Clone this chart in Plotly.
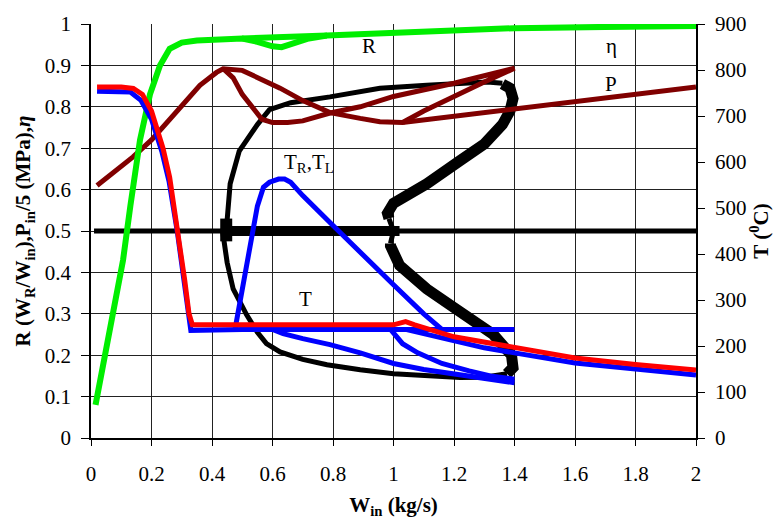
import plotly.graph_objects as go

# ---------------- data ----------------
# eta (efficiency) - main path with lower hysteresis branch
eta_x = [0.015, 0.06, 0.106, 0.13, 0.162, 0.195, 0.228, 0.26, 0.3, 0.35, 0.42, 0.5, 0.55, 0.6, 0.63,
         0.67, 0.72, 0.78, 0.9, 1.0, 1.2, 1.4, 1.7, 2.0]
eta_y = [0.08, 0.25, 0.43, 0.56, 0.72, 0.83, 0.9, 0.94, 0.955, 0.96, 0.963, 0.965, 0.957, 0.946, 0.944,
         0.952, 0.965, 0.972, 0.976, 0.979, 0.985, 0.99, 0.993, 0.995]
eta_up_x = [0.5, 0.56, 0.65, 0.72, 0.78]
eta_up_y = [0.965, 0.967, 0.969, 0.971, 0.972]

# P_in/5 (MPa) - forward path
p_x = [0.02, 0.08, 0.139, 0.2, 0.25, 0.294, 0.36, 0.415, 0.437, 0.5, 0.625, 0.7, 0.79, 0.89, 0.955, 1.03,
       1.2, 1.42, 1.6, 1.8, 2.0]
p_y = [0.61, 0.645, 0.679, 0.72, 0.76, 0.797, 0.852, 0.883, 0.892, 0.888, 0.845, 0.815, 0.786, 0.772, 0.764,
       0.762, 0.777, 0.795, 0.812, 0.83, 0.848]
# P loop branch
p_loop_x = [0.437, 0.47, 0.5, 0.53, 0.565, 0.6, 0.65, 0.7, 0.79, 0.89, 1.0, 1.2, 1.4, 1.3, 1.2, 1.1, 1.03]
p_loop_y = [0.892, 0.87, 0.83, 0.8, 0.77, 0.762, 0.762, 0.766, 0.785, 0.8, 0.825, 0.857, 0.893, 0.86, 0.826,
            0.79, 0.762]

# R (W_R/W_in)
r_const_x = [0.01, 2.0]
r_const_y = [0.5, 0.5]
r_band_x = [0.44, 1.02]
r_band_y = [0.5, 0.5]
r_blob_x = [0.447, 0.447]
r_blob_y = [0.475, 0.53]
r_thin_x = [1.375, 1.3, 1.22, 1.1, 1.0, 0.89, 0.78, 0.7, 0.625, 0.58, 0.55, 0.515, 0.47, 0.45, 0.437, 0.435,
            0.45, 0.46, 0.49, 0.55, 0.59, 0.66, 0.79, 0.955, 1.11, 1.31, 1.36]
r_thin_y = [0.155, 0.147, 0.146, 0.15, 0.155, 0.165, 0.177, 0.19, 0.208, 0.228, 0.255, 0.297, 0.36, 0.424,
            0.479, 0.5, 0.526, 0.614, 0.693, 0.757, 0.793, 0.81, 0.824, 0.845, 0.852, 0.86, 0.857]
r_thick_up_x = [1.36, 1.385, 1.395, 1.385, 1.36, 1.3, 1.22, 1.11, 1.0, 0.98, 0.985]
r_thick_up_y = [0.855, 0.845, 0.82, 0.79, 0.757, 0.71, 0.67, 0.614, 0.567, 0.543, 0.53]
r_neck_x = [0.985, 1.0, 0.99]
r_neck_y = [0.53, 0.5, 0.47]
r_thick_lo_x = [0.99, 0.99, 1.02, 1.11, 1.22, 1.33, 1.39, 1.395, 1.375]
r_thick_lo_y = [0.47, 0.464, 0.417, 0.36, 0.305, 0.25, 0.2, 0.17, 0.155]

# Temperatures (deg C, right axis)
t_red_x = [0.02, 0.1, 0.14, 0.17, 0.2, 0.238, 0.26, 0.288, 0.31, 0.324, 0.335, 0.5, 0.7, 0.9, 1.0, 1.04,
           1.07, 1.2, 1.4, 1.6, 1.8, 2.0]
t_red_y = [763, 763, 760, 747, 711, 630, 567, 450, 342, 270, 246, 246, 246, 246, 246, 253, 246, 220, 196,
           174, 160, 148]
t_blue_x = [0.02, 0.1, 0.13, 0.165, 0.2, 0.235, 0.258, 0.285, 0.31, 0.33, 0.5, 0.8, 1.1, 1.4]
t_blue_y = [754, 754, 752, 734, 693, 621, 558, 450, 333, 234, 236, 236, 236, 236]
t_cont_x = [1.04, 1.1, 1.2, 1.3, 1.4, 1.6, 1.8, 2.0]
t_cont_y = [236, 227, 210, 196, 185, 163, 150, 137]
tr_x = [0.476, 0.5, 0.526, 0.55, 0.57, 0.59, 0.62, 0.64, 0.66, 0.7, 0.8, 0.9, 1.0, 1.1, 1.16]
tr_y = [236, 324, 423, 504, 545, 556, 563, 563, 556, 527, 462, 396, 333, 270, 236]
tl_x = [0.6, 0.635, 0.7, 0.79, 0.89, 1.0, 1.1, 1.26, 1.4]
tl_y = [236, 227, 216, 203, 185, 162, 149, 133, 120]
t5_x = [0.99, 1.01, 1.03, 1.08, 1.16, 1.25, 1.32, 1.4]
t5_y = [236, 220, 205, 185, 162, 146, 135, 128]

x_ticks = [0, 0.2, 0.4, 0.6, 0.8, 1, 1.2, 1.4, 1.6, 1.8, 2]
y_ticks = [0, 0.1, 0.2, 0.3, 0.4, 0.5, 0.6, 0.7, 0.8, 0.9, 1]
t_ticks = [0, 100, 200, 300, 400, 500, 600, 700, 800, 900]

FONT = "Liberation Serif, Times New Roman, serif"
BLACK = "#000000"
DARKRED = "#800000"
GREEN = "#00ee00"
BLUE = "#0000ff"
RED = "#ff0000"
GRID = "#222222"

fig = go.Figure()


def line(x, y, color, width, axis="y"):
    fig.add_trace(go.Scatter(x=x, y=y, mode="lines", yaxis=axis,
                             line=dict(color=color, width=width),
                             showlegend=False, hoverinfo="skip"))


# black R
line(r_const_x, r_const_y, BLACK, 5)
line(r_band_x, r_band_y, BLACK, 10)
line(r_blob_x, r_blob_y, BLACK, 12)
line(r_thin_x, r_thin_y, BLACK, 5)
line(r_thick_up_x, r_thick_up_y, BLACK, 11)
line(r_neck_x, r_neck_y, BLACK, 5)
line(r_thick_lo_x, r_thick_lo_y, BLACK, 11)
# dark red P
line(p_x, p_y, DARKRED, 5)
line(p_loop_x, p_loop_y, DARKRED, 5)
# green eta
line(eta_x, eta_y, GREEN, 6)
line(eta_up_x, eta_up_y, GREEN, 6)
# blue T
line(t_blue_x, t_blue_y, BLUE, 5, "y2")
line(t_cont_x, t_cont_y, BLUE, 5, "y2")
line(tr_x, tr_y, BLUE, 5, "y2")
line(tl_x, tl_y, BLUE, 5, "y2")
line(t5_x, t5_y, BLUE, 5, "y2")
# red T
line(t_red_x, t_red_y, RED, 5, "y2")

ann_font = dict(family=FONT, size=21, color="black")
annotations = [
    dict(x=0.92, y=0.948, text="R"),
    dict(x=1.72, y=0.948, text="η"),
    dict(x=1.72, y=0.855, text="P"),
    dict(x=0.72, y=0.665, text="T<sub>R</sub>,T<sub>L</sub>"),
    dict(x=0.71, y=0.335, text="T"),
]
for a in annotations:
    a.update(xref="x", yref="y", showarrow=False, font=ann_font)

tick_font = dict(family=FONT, size=21, color="black")
title_font = dict(family=FONT, size=21, color="black")

fig.update_layout(
    width=779, height=525,
    margin=dict(l=91, r=83, t=18, b=87),
    paper_bgcolor="white", plot_bgcolor="white",
    annotations=annotations,
    xaxis=dict(range=[0, 2], tickvals=x_ticks, ticktext=[f"{v:g}" for v in x_ticks],
               showgrid=True, gridcolor=GRID, gridwidth=1,
               showline=True, linecolor="black", linewidth=1.5,
               ticks="outside", ticklen=6, tickcolor="black", ticklabelstandoff=10,
               tickfont=tick_font, zeroline=False, layer="below traces",
               title=dict(text="<b>W<sub>in</sub> (kg/s)</b>", font=title_font, standoff=12)),
    yaxis=dict(range=[0, 1], tickvals=y_ticks, ticktext=[f"{v:g}" for v in y_ticks],
               showgrid=True, gridcolor=GRID, gridwidth=1,
               showline=True, linecolor="black", linewidth=1.5,
               ticks="outside", ticklen=8, tickcolor="black", ticklabelstandoff=6,
               tickfont=tick_font, zeroline=False,
               title=dict(text="<b>R (W<sub>R</sub>/W<sub>in</sub>),P<sub>in</sub>/5 (MPa),<i>η</i></b>",
                          font=title_font, standoff=8)),
    yaxis2=dict(range=[0, 900], tickvals=t_ticks, overlaying="y", side="right", anchor="x",
                showgrid=False, showline=True, linecolor="black", linewidth=1.5,
                ticks="outside", ticklen=7, tickcolor="black", zeroline=False,
                tickfont=tick_font, ticklabelstandoff=6,
                title=dict(text="<b>T (<sup>0</sup>C)</b>", font=title_font, standoff=6)),
)

fig.write_html("out.html")
